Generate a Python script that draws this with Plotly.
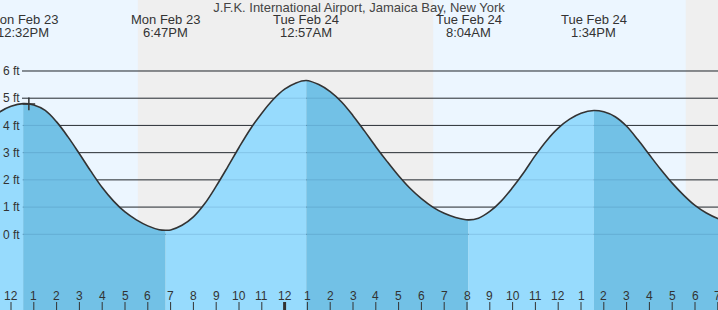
import plotly.graph_objects as go
import pandas as pd

# ---- data (tide height in feet at each time) ----
curve_times = [
    "2026-02-23 11:00", "2026-02-23 11:30", "2026-02-23 12:00", "2026-02-23 12:32", "2026-02-23 13:00",
    "2026-02-23 13:30", "2026-02-23 14:00", "2026-02-23 14:30", "2026-02-23 15:00", "2026-02-23 15:30",
    "2026-02-23 16:00", "2026-02-23 16:30", "2026-02-23 17:00", "2026-02-23 17:30", "2026-02-23 18:00",
    "2026-02-23 18:30", "2026-02-23 18:47", "2026-02-23 19:00", "2026-02-23 19:30", "2026-02-23 20:00",
    "2026-02-23 20:30", "2026-02-23 21:00", "2026-02-23 21:30", "2026-02-23 22:00", "2026-02-23 22:30",
    "2026-02-23 23:00", "2026-02-23 23:30", "2026-02-24 00:00", "2026-02-24 00:30", "2026-02-24 00:57",
    "2026-02-24 01:30", "2026-02-24 02:00", "2026-02-24 02:30", "2026-02-24 03:00", "2026-02-24 03:30",
    "2026-02-24 04:00", "2026-02-24 04:30", "2026-02-24 05:00", "2026-02-24 05:30", "2026-02-24 06:00",
    "2026-02-24 06:30", "2026-02-24 07:00", "2026-02-24 07:30", "2026-02-24 08:04", "2026-02-24 08:30",
    "2026-02-24 09:00", "2026-02-24 09:30", "2026-02-24 10:00", "2026-02-24 10:30", "2026-02-24 11:00",
    "2026-02-24 11:30", "2026-02-24 12:00", "2026-02-24 12:30", "2026-02-24 13:00", "2026-02-24 13:34",
    "2026-02-24 14:00", "2026-02-24 14:30", "2026-02-24 15:00", "2026-02-24 15:30", "2026-02-24 16:00",
    "2026-02-24 16:30", "2026-02-24 17:00", "2026-02-24 17:30", "2026-02-24 18:00", "2026-02-24 18:30",
    "2026-02-24 19:00", "2026-02-24 19:30",
]
curve_feet = [
    4.12, 4.49, 4.70, 4.80, 4.75,
    4.55, 4.13, 3.58, 2.96, 2.32,
    1.72, 1.22, 0.82, 0.53, 0.31,
    0.17, 0.15, 0.16, 0.33, 0.64,
    1.13, 1.77, 2.47, 3.19, 3.87,
    4.45, 4.95, 5.33, 5.56, 5.65,
    5.50, 5.24, 4.86, 4.36, 3.80,
    3.22, 2.67, 2.15, 1.69, 1.31,
    1.00, 0.77, 0.62, 0.53, 0.59,
    0.84, 1.22, 1.72, 2.28, 2.90,
    3.45, 3.90, 4.23, 4.45, 4.55,
    4.50, 4.32, 3.97, 3.47, 2.92,
    2.38, 1.88, 1.44, 1.06, 0.78,
    0.58, 0.46,
]

event_times = ["2026-02-23 12:32", "2026-02-23 18:47", "2026-02-24 00:57",
               "2026-02-24 08:04", "2026-02-24 13:34", "2026-02-24 19:53"]
event_kind = ["H", "L", "H", "L", "H", "L"]

sun_times = ["2026-02-23 17:34", "2026-02-24 06:31", "2026-02-24 17:36"]  # sunset, sunrise, sunset

now_time = ["2026-02-23 12:47"]
now_feet = [4.79]

feet_ticks = [0, 1, 2, 3, 4, 5, 6]
feet_labels = ["0 ft", "1 ft", "2 ft", "3 ft", "4 ft", "5 ft", "6 ft"]
hour_labels = ["12", "1", "2", "3", "4", "5", "6", "7", "8", "9", "10", "11",
               "12", "1", "2", "3", "4", "5", "6", "7", "8", "9", "10", "11",
               "12", "1", "2", "3", "4", "5", "6", "7"]
hour_ticks = list(pd.date_range("2026-02-23 12:00", periods=len(hour_labels), freq="h"))
midnight = ["2026-02-24 00:00"]

title_text = "J.F.K. International Airport, Jamaica Bay, New York"

# ---- styles ----
FONT = "Liberation Sans, Arial, sans-serif"
TXT = "#333333"
DAY_BG = "#ECF6FF"
NIGHT_BG = "#EFEFEF"
RISE = "#97DBFD"
FALL = "#72C1E6"
BASE = -5

X_RANGE = ["2026-02-23 11:31:03", "2026-02-24 19:00:32"]
Y_RANGE = [-2.781, 8.608]

fig = go.Figure()

ct = pd.to_datetime(curve_times)
et = pd.to_datetime(event_times)

# split curve into segments between tide events
bounds = [ct[0]] + [e for e in et if ct[0] < e < ct[-1]] + [ct[-1]]
for i in range(len(bounds) - 1):
    a, b = bounds[i], bounds[i + 1]
    idx = [k for k in range(len(ct)) if a <= ct[k] <= b]
    xs = [ct[k] for k in idx]
    ys = [curve_feet[k] for k in idx]
    end_kind = None
    for e, kd in zip(et, event_kind):
        if e >= b:
            end_kind = kd
            break
    color = RISE if end_kind == "H" else FALL
    fig.add_trace(go.Scatter(x=xs, y=[BASE] * len(xs), mode="lines",
                             line=dict(width=0), hoverinfo="skip", showlegend=False))
    fig.add_trace(go.Scatter(x=xs, y=ys, mode="lines", fill="tonexty", fillcolor=color,
                             line=dict(width=0, shape="spline", smoothing=1.0),
                             hoverinfo="skip", showlegend=False))

# tide curve line
fig.add_trace(go.Scatter(x=ct, y=curve_feet, mode="lines",
                         line=dict(color=TXT, width=1.6, shape="spline", smoothing=1.0),
                         hoverinfo="skip", showlegend=False))

# current marker
fig.add_trace(go.Scatter(x=pd.to_datetime(now_time), y=now_feet, mode="markers",
                         marker=dict(symbol="cross-thin", size=9, line=dict(width=1.5, color=TXT)),
                         hoverinfo="skip", showlegend=False))

shapes = []
day_night = [(X_RANGE[0], sun_times[0], DAY_BG), (sun_times[0], sun_times[1], NIGHT_BG),
             (sun_times[1], sun_times[2], DAY_BG), (sun_times[2], X_RANGE[1], NIGHT_BG)]
for x0, x1, c in day_night:
    shapes.append(dict(type="rect", xref="x", yref="paper", x0=x0, x1=x1, y0=0, y1=1,
                       fillcolor=c, line=dict(width=0), layer="below"))
for v in feet_ticks:
    shapes.append(dict(type="line", xref="paper", yref="y", x0=22 / 718, x1=1, y0=v, y1=v,
                       line=dict(color="#333333", width=1), layer="below"))
for v in feet_ticks:
    shapes.append(dict(type="line", xref="paper", yref="y", x0=22 / 718, x1=1, y0=v, y1=v,
                       line=dict(color="rgba(0,50,90,0.13)", width=1), layer="above"))
# hour tick marks at the bottom
mid = set(pd.to_datetime(midnight))
for t in hour_ticks:
    shapes.append(dict(type="line", xref="x", yref="paper", x0=t, x1=t, y0=0, y1=8 / 310,
                       line=dict(color=TXT, width=3 if t in mid else 1), layer="above"))

annotations = []
for e in et:
    d = e.strftime("%a %b %d").replace(" 0", " ")
    h = e.strftime("%I:%M%p").lstrip("0")
    annotations.append(dict(x=e, y=1 - 20 / 310, xref="x", yref="paper", text=d, showarrow=False,
                            xanchor="center", yanchor="middle",
                            font=dict(family=FONT, size=13, color=TXT)))
    annotations.append(dict(x=e, y=1 - 32.5 / 310, xref="x", yref="paper", text=h, showarrow=False,
                            xanchor="center", yanchor="middle",
                            font=dict(family=FONT, size=13, color=TXT)))
for t, lab in zip(hour_ticks, hour_labels):
    annotations.append(dict(x=t, y=14 / 310, xref="x", yref="paper", text=lab, showarrow=False,
                            xanchor="center", yanchor="middle",
                            font=dict(family=FONT, size=12, color=TXT)))

fig.update_layout(
    width=718, height=310,
    margin=dict(l=0, r=0, t=0, b=0, pad=0),
    paper_bgcolor=NIGHT_BG, plot_bgcolor=NIGHT_BG,
    showlegend=False, hovermode=False,
    title=dict(text=title_text, x=0.5, xanchor="center", y=1 - 7.5 / 310, yanchor="middle",
               font=dict(family=FONT, size=13, color="#444444")),
    shapes=shapes, annotations=annotations,
    xaxis=dict(type="date", range=X_RANGE, showticklabels=False, ticks="",
               showgrid=False, zeroline=False, showline=False, fixedrange=True),
    yaxis=dict(range=Y_RANGE, tickvals=feet_ticks, ticktext=feet_labels,
               ticks="", ticklabelposition="inside", showgrid=False, zeroline=False, showline=False,
               tickfont=dict(family=FONT, size=12, color=TXT), fixedrange=True),
)

fig.write_html("out.html")
